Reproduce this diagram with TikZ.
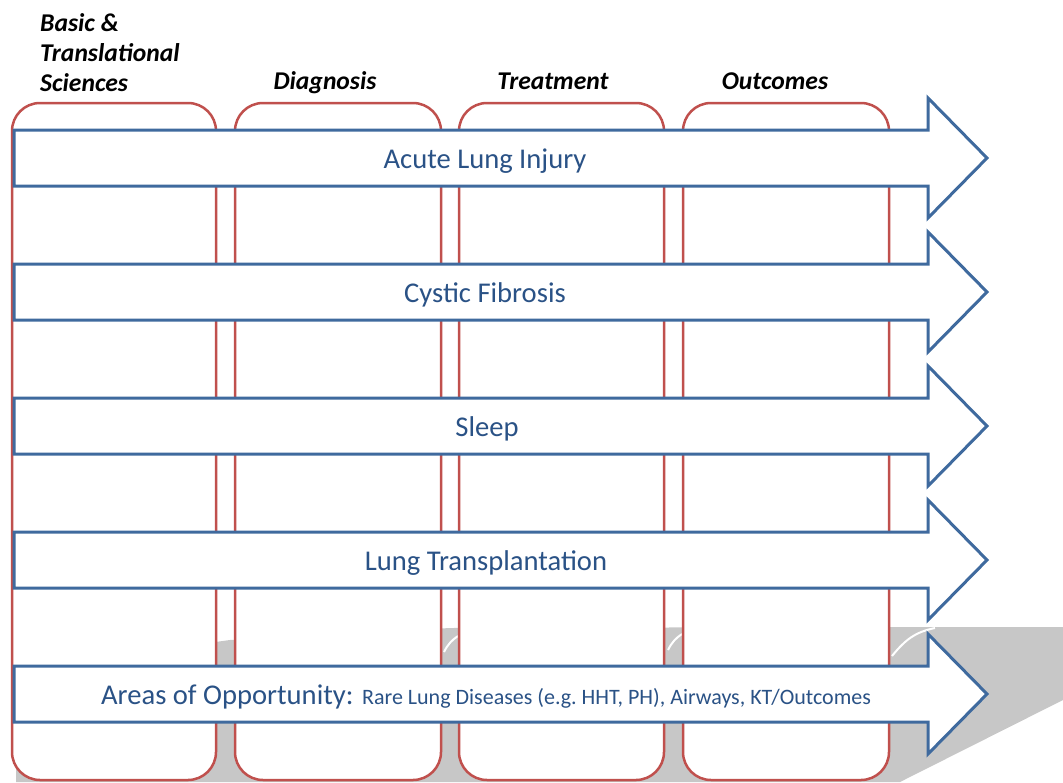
\documentclass[tikz,border=0pt]{standalone}
\usepackage{fontspec}
\setmainfont{Carlito}
\definecolor{colred}{HTML}{C0504D}
\definecolor{arrblue}{HTML}{3F6A9E}
\definecolor{txtblue}{HTML}{2A5286}
\begin{document}
\begin{tikzpicture}[x=1pt,y=-1pt,
  column/.style={draw=colred, line width=2.5pt, fill=white, rounded corners=28pt},
  arrowshape/.style={draw=arrblue, line width=3pt, fill=white, line join=miter},
  lbl/.style={text=txtblue, font=\fontsize{28.6}{32}\selectfont, inner sep=0pt},
  hdr/.style={font=\fontsize{25.6}{30}\selectfont\bfseries\itshape, align=left, inner sep=0pt},
  shadowfill/.style={fill=black!22},
  streak/.style={draw=white, line width=2pt}]
\useasboundingbox (0,0) rectangle (1063,782);
% shadow
\fill[shadowfill] (16,782) -- (16,665) .. controls (120,655) .. (230,640) -- (450,628) -- (880,627) -- (1063,627) -- (1063,700) -- (900,782) -- cycle;
\draw[streak] (892,656) .. controls (905,640) and (915,632) .. (935,628);
\draw[streak] (668,650) .. controls (672,642) and (676,638) .. (682,634);
\draw[streak] (444,652) .. controls (448,644) and (452,640) .. (458,636);
% columns
\draw[column] (12,103) rectangle (216,780);
\draw[column] (235,103) rectangle (441,780);
\draw[column] (459,103) rectangle (664,780);
\draw[column] (683,103) rectangle (889,780);
% arrows
\foreach \c in {158,292,426,560,694}{
  \draw[arrowshape] (14,\c-28) -- (928,\c-28) -- (928,\c-60) -- (987,\c) -- (928,\c+60) -- (928,\c+28) -- (14,\c+28) -- cycle;
}
% arrow labels
\node[lbl] (t1) at (485,161) {Acute Lung Injury};
\node[lbl] (t2) at (485,295) {Cystic Fibrosis};
\node[lbl] (t3) at (487,429) {Sleep};
\node[lbl] (t4) at (486,563) {Lung Transplantation};
\node[lbl] (t5) at (486,697) {Areas of Opportunity: {\fontsize{22}{24}\selectfont Rare Lung Diseases (e.g.\ HHT, PH), Airways, KT/Outcomes}};
% headers
\node[hdr, anchor=north west] (h1) at (40,13) {Basic \&\\Translational\\Sciences};
\node[hdr, anchor=base] (h2) at (325,89) {Diagnosis};
\node[hdr, anchor=base] (h3) at (553,89) {Treatment};
\node[hdr, anchor=base] (h4) at (775,89) {Outcomes};
\end{tikzpicture}
\end{document}
